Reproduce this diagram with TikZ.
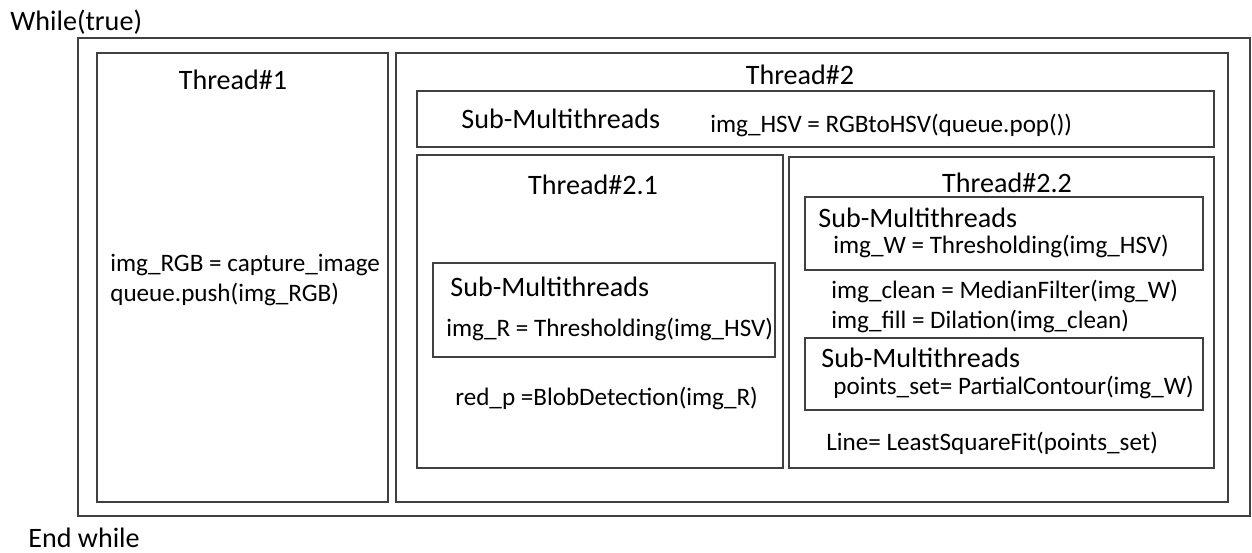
\documentclass[tikz,border=0pt]{standalone}
\usepackage{fontspec}
\setmainfont{Carlito}
\usetikzlibrary{positioning,fit}

\begin{document}
\begin{tikzpicture}[
        x=0.02cm, y=-0.02cm,
        box/.style = {
                draw=black!75,
                line width=0.8pt,
                inner sep=0pt
            },
        title/.style = {font=\fontsize{16}{19}\selectfont, inner sep=0pt},
        code/.style = {font=\fontsize{14.3}{17}\selectfont, inner sep=0pt, anchor=west}
    ]
    \useasboundingbox (0,0) rectangle (1252,552);

    % loop and the two threads
    \node[box,fit={(78,38) (1250,516)}] (loop) {};
    \node[box,fit={(97,53) (388,502)}] (thA) {};
    \node[box,fit={(396,53) (1228,502)}] (thB) {};
    \node[title,anchor=west] (while) at (10,22) {While(true)};
    \node[title,anchor=west] (endwhile) at (28,538) {End while};

    % thread 1
    \node[title] (thAtitle) at (233,80) {Thread\#1};
    \node[code] (capture) at (110,265) {img\_RGB = capture\_image};
    \node[code] (push) at (110,294) {queue.push(img\_RGB)};

    % thread 2
    \node[title] (thBtitle) at (800,75) {Thread\#2};
    \node[box,fit={(417,91) (1214,147)}] (hsvbox) {};
    \node[title,anchor=west] (hsvsub) at (461,119) {Sub-Multithreads};
    \node[code] (hsv) at (710,125) {img\_HSV = RGBtoHSV(queue.pop())};

    % thread 2.1
    \node[box,fit={(417,155) (783,468)}] (thBa) {};
    \node[title] (thBatitle) at (593,185) {Thread\#2.1};
    \node[box,fit={(433,263) (775,357)}] (redbox) {};
    \node[title,anchor=west] (redsub) at (450,287) {Sub-Multithreads};
    \node[code] (thrR) at (446,329) {img\_R = Thresholding(img\_HSV)};
    \node[code] (blob) at (455,398) {red\_p =BlobDetection(img\_R)};

    % thread 2.2
    \node[box,fit={(789,157) (1214,468)}] (thBb) {};
    \node[title] (thBbtitle) at (1007,183) {Thread\#2.2};
    \node[box,fit={(805,197) (1203,270)}] (whitebox) {};
    \node[title,anchor=west] (whitesub) at (818,218) {Sub-Multithreads};
    \node[code] (thrW) at (833,246) {img\_W = Thresholding(img\_HSV)};
    \node[code] (median) at (831,291) {img\_clean = MedianFilter(img\_W)};
    \node[code] (dilate) at (831,321) {img\_fill = Dilation(img\_clean)};
    \node[box,fit={(805,338) (1203,410)}] (contbox) {};
    \node[title,anchor=west] (contsub) at (821,358) {Sub-Multithreads};
    \node[code] (contour) at (833,387) {points\_set= PartialContour(img\_W)};
    \node[code] (fitline) at (826,443) {Line= LeastSquareFit(points\_set)};
\end{tikzpicture}
\end{document}
